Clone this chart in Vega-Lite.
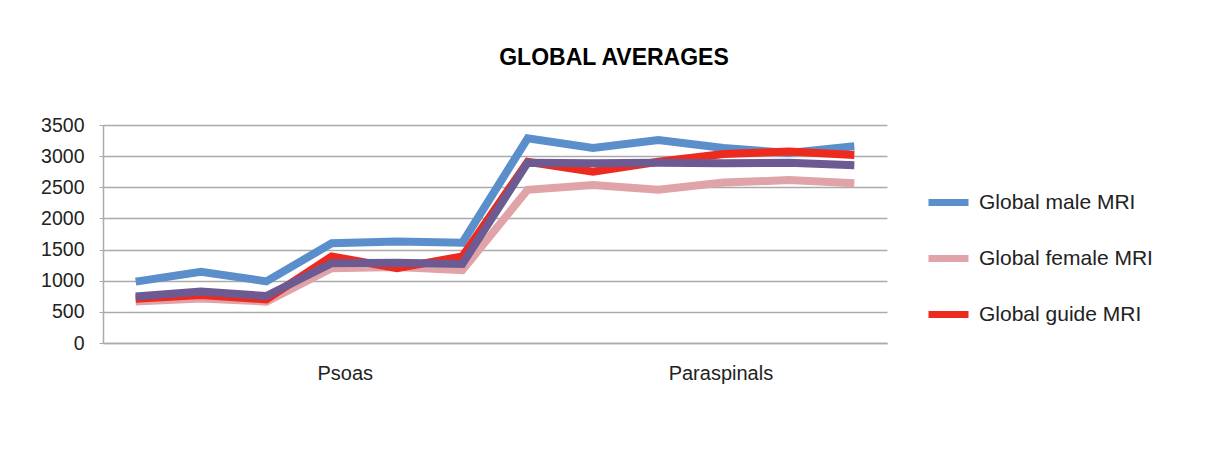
{
  "$schema": "https://vega.github.io/schema/vega-lite/v6.json",
  "width": 784,
  "height": 218,
  "autosize": {"type": "none"},
  "padding": {"left": 103, "top": 125, "right": 321, "bottom": 131},
  "background": "white",
  "title": {
    "text": "GLOBAL AVERAGES",
    "fontSize": 23,
    "fontWeight": "bold",
    "font": "Liberation Sans",
    "color": "#000000",
    "anchor": "middle",
    "dx": 119,
    "offset": 45
  },
  "data": {
    "values": [
      {"point": 1, "region": "Psoas", "series": "Global male MRI", "value": 985},
      {"point": 2, "region": "Psoas", "series": "Global male MRI", "value": 1145},
      {"point": 3, "region": "Psoas", "series": "Global male MRI", "value": 990},
      {"point": 4, "region": "Psoas", "series": "Global male MRI", "value": 1600},
      {"point": 5, "region": "Psoas", "series": "Global male MRI", "value": 1630},
      {"point": 6, "region": "Psoas", "series": "Global male MRI", "value": 1610},
      {"point": 7, "region": "Paraspinals", "series": "Global male MRI", "value": 3285},
      {"point": 8, "region": "Paraspinals", "series": "Global male MRI", "value": 3130},
      {"point": 9, "region": "Paraspinals", "series": "Global male MRI", "value": 3260},
      {"point": 10, "region": "Paraspinals", "series": "Global male MRI", "value": 3130},
      {"point": 11, "region": "Paraspinals", "series": "Global male MRI", "value": 3050},
      {"point": 12, "region": "Paraspinals", "series": "Global male MRI", "value": 3160},
      {"point": 1, "region": "Psoas", "series": "Global female MRI", "value": 665},
      {"point": 2, "region": "Psoas", "series": "Global female MRI", "value": 715},
      {"point": 3, "region": "Psoas", "series": "Global female MRI", "value": 665},
      {"point": 4, "region": "Psoas", "series": "Global female MRI", "value": 1200},
      {"point": 5, "region": "Psoas", "series": "Global female MRI", "value": 1220},
      {"point": 6, "region": "Psoas", "series": "Global female MRI", "value": 1170},
      {"point": 7, "region": "Paraspinals", "series": "Global female MRI", "value": 2460},
      {"point": 8, "region": "Paraspinals", "series": "Global female MRI", "value": 2535},
      {"point": 9, "region": "Paraspinals", "series": "Global female MRI", "value": 2460},
      {"point": 10, "region": "Paraspinals", "series": "Global female MRI", "value": 2575},
      {"point": 11, "region": "Paraspinals", "series": "Global female MRI", "value": 2615},
      {"point": 12, "region": "Paraspinals", "series": "Global female MRI", "value": 2565},
      {"point": 1, "region": "Psoas", "series": "Global guide MRI", "value": 710},
      {"point": 2, "region": "Psoas", "series": "Global guide MRI", "value": 770},
      {"point": 3, "region": "Psoas", "series": "Global guide MRI", "value": 700},
      {"point": 4, "region": "Psoas", "series": "Global guide MRI", "value": 1390},
      {"point": 5, "region": "Psoas", "series": "Global guide MRI", "value": 1200},
      {"point": 6, "region": "Psoas", "series": "Global guide MRI", "value": 1390},
      {"point": 7, "region": "Paraspinals", "series": "Global guide MRI", "value": 2910},
      {"point": 8, "region": "Paraspinals", "series": "Global guide MRI", "value": 2750},
      {"point": 9, "region": "Paraspinals", "series": "Global guide MRI", "value": 2910},
      {"point": 10, "region": "Paraspinals", "series": "Global guide MRI", "value": 3035},
      {"point": 11, "region": "Paraspinals", "series": "Global guide MRI", "value": 3075},
      {"point": 12, "region": "Paraspinals", "series": "Global guide MRI", "value": 3020},
      {"point": 1, "region": "Psoas", "series": "Global MRI", "value": 745},
      {"point": 2, "region": "Psoas", "series": "Global MRI", "value": 825},
      {"point": 3, "region": "Psoas", "series": "Global MRI", "value": 755},
      {"point": 4, "region": "Psoas", "series": "Global MRI", "value": 1280},
      {"point": 5, "region": "Psoas", "series": "Global MRI", "value": 1290},
      {"point": 6, "region": "Psoas", "series": "Global MRI", "value": 1270},
      {"point": 7, "region": "Paraspinals", "series": "Global MRI", "value": 2895},
      {"point": 8, "region": "Paraspinals", "series": "Global MRI", "value": 2885},
      {"point": 9, "region": "Paraspinals", "series": "Global MRI", "value": 2895},
      {"point": 10, "region": "Paraspinals", "series": "Global MRI", "value": 2885},
      {"point": 11, "region": "Paraspinals", "series": "Global MRI", "value": 2895},
      {"point": 12, "region": "Paraspinals", "series": "Global MRI", "value": 2855}
    ]
  },
  "mark": {"type": "line", "strokeWidth": 8, "strokeJoin": "miter", "strokeCap": "butt"},
  "encoding": {
    "x": {
      "field": "point",
      "type": "quantitative",
      "scale": {"domain": [0.5, 12.5], "nice": false, "zero": false},
      "axis": {
        "title": null,
        "values": [4.2, 9.95],
        "labelExpr": "datum.value < 7 ? 'Psoas' : 'Paraspinals'",
        "grid": false,
        "ticks": false,
        "domain": true,
        "domainColor": "#aaaaaa",
        "domainWidth": 1.5,
        "labelPadding": 20,
        "labelFontSize": 20,
        "labelFont": "Liberation Sans",
        "labelColor": "#222222"
      }
    },
    "y": {
      "field": "value",
      "type": "quantitative",
      "scale": {"domain": [0, 3500], "nice": false},
      "axis": {
        "title": null,
        "values": [0, 500, 1000, 1500, 2000, 2500, 3000, 3500],
        "format": "d",
        "grid": true,
        "gridColor": "#aaaaaa",
        "gridWidth": 1.5,
        "domain": true,
        "domainColor": "#aaaaaa",
        "domainWidth": 1.5,
        "ticks": true,
        "tickSize": 4,
        "tickColor": "#aaaaaa",
        "labelPadding": 15,
        "labelFontSize": 19.5,
        "labelFont": "Liberation Sans",
        "labelColor": "#222222"
      }
    },
    "color": {
      "field": "series",
      "type": "nominal",
      "sort": ["Global male MRI", "Global female MRI", "Global guide MRI", "Global MRI"],
      "scale": {
        "domain": ["Global male MRI", "Global female MRI", "Global guide MRI", "Global MRI"],
        "range": ["#5A8FCB", "#E0A4A8", "#EE2A1E", "#6E5A93"]
      },
      "legend": {
        "title": null,
        "values": ["Global male MRI", "Global female MRI", "Global guide MRI"],
        "orient": "none",
        "legendX": 822,
        "legendY": 54,
        "symbolType": "stroke",
        "symbolSize": 1600,
        "symbolStrokeWidth": 7,
        "labelFontSize": 21,
        "labelFont": "Liberation Sans",
        "labelColor": "#222222",
        "labelOffset": 7,
        "rowPadding": 18,
        "labelLimit": 300
      }
    },
    "order": {"field": "point"}
  },
  "config": {"view": {"stroke": null}}
}
